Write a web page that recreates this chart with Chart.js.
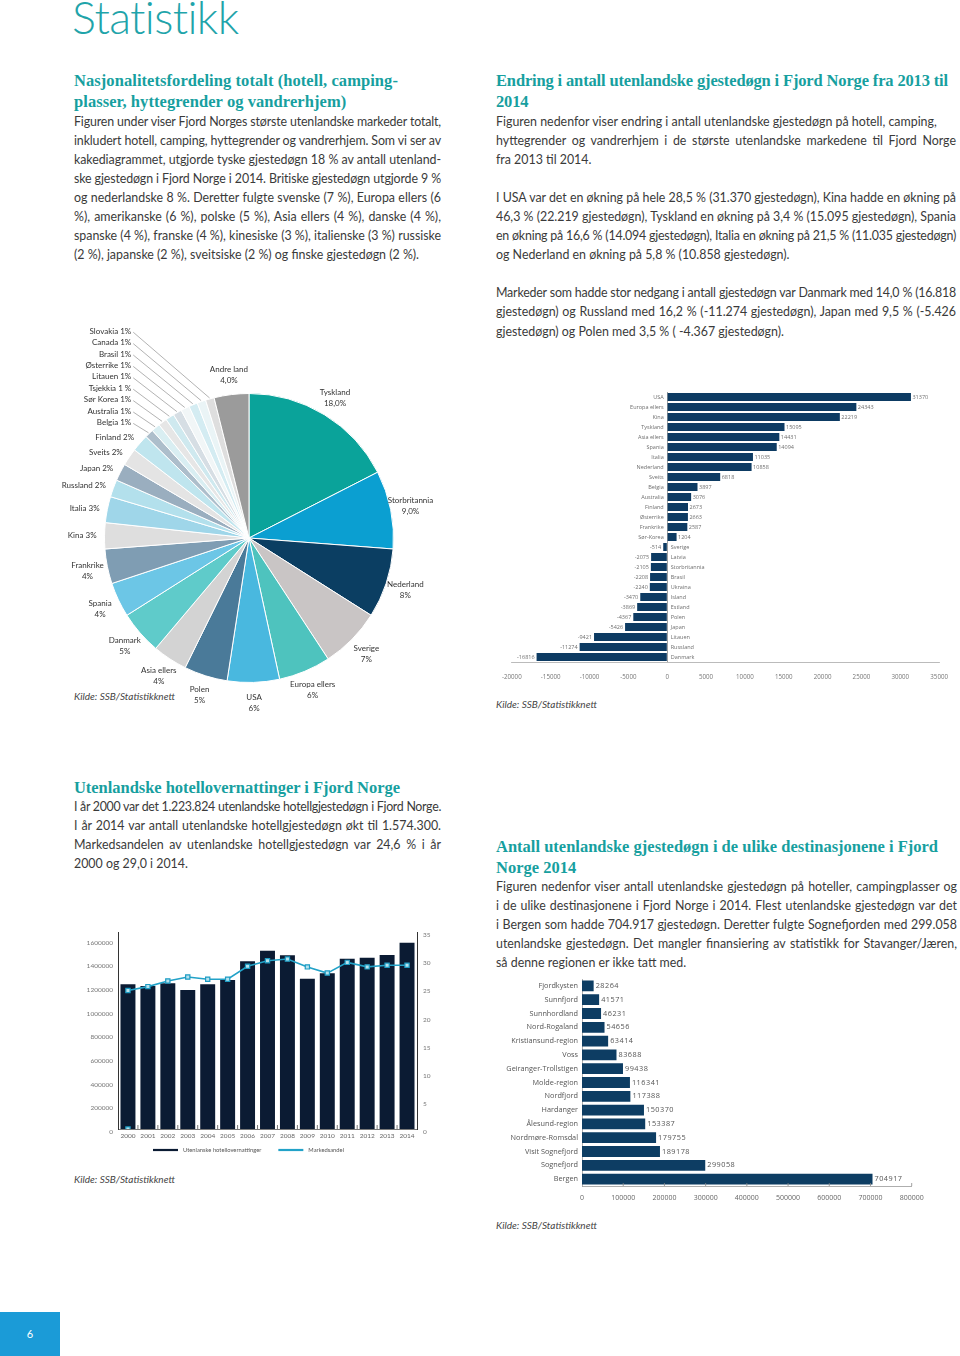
<!DOCTYPE html>
<html lang="no"><head><meta charset="utf-8"><title>Statistikk</title>
<script src="https://cdn.jsdelivr.net/npm/chart.js@4.4.1/dist/chart.umd.min.js"></script>
<style>
html,body{margin:0;padding:0;background:#fff;}
body{width:960px;height:1356px;position:relative;overflow:hidden;font-family:Lato,"Open Sans",sans-serif;color:#3a3a3a;}
.title{position:absolute;left:72px;top:-5px;font-size:45px;line-height:45px;font-weight:300;color:#1fa4aa;white-space:nowrap;}
h2{position:absolute;margin:0;font-family:"Liberation Serif",serif;font-weight:bold;color:#179f9f;font-size:16.5px;line-height:21px;white-space:nowrap;}
h2 div{white-space:nowrap;}
.body{position:absolute;font-size:12.4px;line-height:19.1px;}
.body div{white-space:nowrap;text-align:justify;text-align-last:justify;}
.body div.l{text-align-last:left;}
.body div.gap{height:19.1px;}
.kilde{position:absolute;font-style:italic;font-size:10px;color:#444;white-space:nowrap;}
canvas{position:absolute;}
.tab{position:absolute;left:0;top:1312px;width:60px;height:44px;background:#1b9bd7;color:#fff;font-size:11px;text-align:center;line-height:44px;}
</style></head><body>
<div class="title" data-w="168">Statistikk</div>

<h2 style="left:74px;top:69.5px"><div data-w="324">Nasjonalitetsfordeling totalt (hotell, camping-</div><div>plasser, hyttegrender og vandrerhjem)</div></h2>
<div class="body" style="left:74px;top:111.5px;width:367px">
<div>Figuren under viser Fjord Norges største utenlandske markeder totalt,</div>
<div>inkludert hotell, camping, hyttegrender og vandrerhjem. Som vi ser av</div>
<div>kakediagrammet, utgjorde tyske gjestedøgn 18 % av antall utenland-</div>
<div>ske gjestedøgn i Fjord Norge i 2014. Britiske gjestedøgn utgjorde 9 %</div>
<div>og nederlandske 8 %. Deretter fulgte svenske (7 %), Europa ellers (6</div>
<div>%), amerikanske (6 %), polske (5 %), Asia ellers (4 %), danske (4 %),</div>
<div>spanske (4 %), franske (4 %), kinesiske (3 %), italienske (3 %) russiske</div>
<div class="l">(2 %), japanske (2 %), sveitsiske (2 %) og finske gjestedøgn (2 %).</div>
</div>

<h2 style="left:496px;top:69.5px"><div data-w="452">Endring i antall utenlandske gjestedøgn i Fjord Norge fra 2013 til</div><div>2014</div></h2>
<div class="body" style="left:496px;top:111.5px;width:460px">
<div class="l">Figuren nedenfor viser endring i antall utenlandske gjestedøgn på hotell, camping,</div>
<div>hyttegrender og vandrerhjem i de største utenlandske markedene til Fjord Norge</div>
<div class="l">fra 2013 til 2014.</div>
<div class="gap"></div>
<div>I USA var det en økning på hele 28,5 % (31.370 gjestedøgn), Kina hadde en økning på</div>
<div>46,3 % (22.219 gjestedøgn), Tyskland en økning på 3,4 % (15.095 gjestedøgn), Spania</div>
<div>en økning på 16,6 % (14.094 gjestedøgn), Italia en økning på 21,5 % (11.035 gjestedøgn)</div>
<div class="l">og Nederland en økning på 5,8 % (10.858 gjestedøgn).</div>
<div class="gap"></div>
<div>Markeder som hadde stor nedgang i antall gjestedøgn var Danmark med 14,0 % (16.818</div>
<div>gjestedøgn) og Russland med 16,2 % (-11.274 gjestedøgn), Japan med 9,5 % (-5.426</div>
<div class="l">gjestedøgn) og Polen med 3,5 % ( -4.367 gjestedøgn).</div>
</div>

<h2 style="left:74px;top:776.5px"><div data-w="326">Utenlandske hotellovernattinger i Fjord Norge</div></h2>
<div class="body" style="left:74px;top:796.5px;width:367px">
<div>I år 2000 var det 1.223.824 utenlandske hotellgjestedøgn i Fjord Norge.</div>
<div>I år 2014 var antall utenlandske hotellgjestedøgn økt til 1.574.300.</div>
<div>Markedsandelen av utenlandske hotellgjestedøgn var 24,6 % i år</div>
<div class="l">2000 og 29,0 i 2014.</div>
</div>

<h2 style="left:496px;top:835.5px"><div data-w="442">Antall utenlandske gjestedøgn i de ulike destinasjonene i Fjord</div><div>Norge 2014</div></h2>
<div class="body" style="left:496px;top:876.5px;width:461px">
<div>Figuren nedenfor viser antall utenlandske gjestedøgn på hoteller, campingplasser og</div>
<div>i de ulike destinasjonene i Fjord Norge i 2014. Flest utenlandske gjestedøgn var det</div>
<div>i Bergen som hadde 704.917 gjestedøgn. Deretter fulgte Sognefjorden med 299.058</div>
<div>utenlandske gjestedøgn. Det mangler finansiering av statistikk for Stavanger/Jæren,</div>
<div class="l">så denne regionen er ikke tatt med.</div>
</div>

<div class="kilde" style="left:74px;top:690px">Kilde: SSB/Statistikknett</div>
<div class="kilde" style="left:496px;top:698px">Kilde: SSB/Statistikknett</div>
<div class="kilde" style="left:74px;top:1173px">Kilde: SSB/Statistikknett</div>
<div class="kilde" style="left:496px;top:1219px">Kilde: SSB/Statistikknett</div>

<canvas id="pie" width="400" height="400" style="left:55px;top:318px"></canvas>
<canvas id="chg" width="470" height="320" style="left:490px;top:380px"></canvas>
<canvas id="hot" width="400" height="250" style="left:60px;top:920px"></canvas>
<canvas id="reg" width="470" height="245" style="left:490px;top:970px"></canvas>

<div class="tab">6</div>

<script>
// ---------- DATA ----------
const pieCategories = ['Tyskland','Storbritannia','Nederland','Sverige','Europa ellers','USA','Polen','Asia ellers','Danmark','Spania','Frankrike','Kina','Italia','Russland','Japan','Sveits','Finland','Belgia','Australia','Sør Korea','Tsjekkia','Litauen','Østerrike','Brasil','Canada','Slovakia','Andre land'];
const pieValues = [18,9,8,7,6,6,5,4,5,4,4,3,3,2,2,2,2,1,1,1,1,1,1,1,1,1,4];
const piePercentLabels = ['18,0%','9,0%','8%','7%','6%','6%','5%','4%','5%','4%','4%','3%','3%','2%','2%','2%','2%','1%','1%','1%','1 %','1%','1%','1%','1%','1%','4,0%'];

const changeCategories = ['USA','Europa ellers','Kina','Tyskland','Asia ellers','Spania','Italia','Nederland','Sveits','Belgia','Australia','Finland','Østerrike','Frankrike','Sør-Korea','Sverige','Latvia','Storbritannia','Brasil','Ukraina','Island','Estland','Polen','Japan','Litauen','Russland','Danmark'];
const changeValues = [31370,24343,22219,15095,14431,14094,11035,10858,6818,3897,3076,2673,2663,2587,1204,-514,-2075,-2105,-2208,-2240,-3470,-3869,-4367,-5426,-9421,-11274,-16816];

const hotelYears = ['2000','2001','2002','2003','2004','2005','2006','2007','2008','2009','2010','2011','2012','2013','2014'];
const hotelNights = [1223824,1209000,1231700,1175200,1223300,1259600,1417300,1507000,1468000,1270600,1316000,1439300,1447800,1470500,1574300];
const marketShare = [24.6,25.3,26.3,27.0,26.6,26.6,28.9,29.9,30.2,28.8,27.7,29.6,28.8,29.1,29.1];
const marketShareBaseMarker = [0,null,null,null,null,null,null,null,null,null,null,null,null,null,null];
const hotelNightTicks = [0,200000,400000,600000,800000,1000000,1200000,1400000,1600000];

const regionCategories = ['Fjordkysten','Sunnfjord','Sunnhordland','Nord-Rogaland','Kristiansund-region','Voss','Geiranger-Trollstigen','Molde-region','Nordfjord','Hardanger','Ålesund-region','Nordmøre-Romsdal','Visit Sognefjord','Sognefjord','Bergen'];
const regionValues = [28264,41571,46231,54656,63414,83688,99438,116341,117388,150370,153387,179755,189178,299058,704917];

// ---------- STYLES ----------
const pieColors = ['#0aa39a','#0b9fd1','#0b3e62','#c9c5c5','#4ec3be','#49b8df','#4a7a99','#d3d3d3','#5fcbca','#6cc6e6','#7f9db3','#dedede','#9fd6e9','#b3e0ec','#9aaebf','#e4e4e4','#bfe5ee','#adbecb','#d9eef2','#e6e6e6','#cfe9ef','#d6dee4','#f1f6f7','#d4ecf2','#eaf4f6','#dedede','#9b9b9b'];

// ---------- TEXT FITTING ----------
function natWidth(el){const r=document.createRange();r.selectNodeContents(el);return r.getBoundingClientRect().width;}
document.querySelectorAll('[data-w]').forEach(el=>{
  const target=+el.dataset.w; const w=natWidth(el); const n=el.textContent.length;
  const ls=((target-w)/n).toFixed(3)+'px';
  if(el.parentElement.tagName==='H2') el.parentElement.style.letterSpacing=ls; else el.style.letterSpacing=ls;
});
document.querySelectorAll('.body div').forEach(el=>{
  if(el.classList.contains('gap')) return;
  const prev=el.style.textAlignLast; el.style.textAlignLast='left';
  const w=natWidth(el), cw=el.clientWidth;
  if(w>cw-1){el.style.letterSpacing=((cw-1-w)/el.textContent.length).toFixed(3)+'px';}
  el.style.textAlignLast=prev;
});

// ---------- PLUGINS ----------
const pieLabelPlugin={id:'pieLabels',afterDatasetsDraw(chart){
  const ctx=chart.ctx, meta=chart.getDatasetMeta(0);
  ctx.save(); ctx.font='8px Lato'; ctx.fillStyle='#333'; ctx.strokeStyle='#666'; ctx.lineWidth=0.5; ctx.textBaseline='middle';
  let k=0;
  meta.data.forEach((arc,i)=>{
    const p=arc.getProps(['x','y','startAngle','endAngle','outerRadius'],true);
    const mid=(p.startAngle+p.endAngle)/2, c=Math.cos(mid), s=Math.sin(mid), r=p.outerRadius;
    const v=pieValues[i], name=pieCategories[i], pct=piePercentLabels[i];
    if(v>=4){
      const lx=p.x+c*r*1.14, ly=p.y+s*r*1.14;
      ctx.textAlign='center'; ctx.fillText(name,lx,ly-5.5); ctx.fillText(pct,lx,ly+5.5);
    } else if(v>=2){
      ctx.textAlign='right'; ctx.fillText(name+' '+pct,p.x+c*r*1.055,p.y+s*r*1.055);
    } else {
      const lx=p.x-r*0.815, ly=p.y-r*0.80-k*11.4;
      ctx.textAlign='right'; ctx.fillText(name+' '+pct,lx,ly);
      ctx.beginPath(); ctx.moveTo(lx+2,ly+1); ctx.lineTo(p.x+c*(r+1),p.y+s*(r+1)); ctx.stroke();
      k++;
    }
  });
  ctx.restore();
}};

const changeLabelPlugin={id:'changeLabels',afterDatasetsDraw(chart){
  const ctx=chart.ctx, meta=chart.getDatasetMeta(0), zero=chart.scales.x.getPixelForValue(0);
  ctx.save(); ctx.font='5.5px "Open Sans"'; ctx.fillStyle='#6f6f6f'; ctx.textBaseline='middle';
  meta.data.forEach((bar,i)=>{
    const v=changeValues[i], y=bar.y;
    if(v>=0){ctx.textAlign='left';ctx.fillText(String(v),bar.x+1.5,y);ctx.textAlign='right';ctx.fillText(changeCategories[i],zero-3.5,y);}
    else{ctx.textAlign='right';ctx.fillText(String(v),bar.x-2,y);ctx.textAlign='left';ctx.fillText(changeCategories[i],zero+3.5,y);}
  });
  ctx.restore();
}};

const regionLabelPlugin={id:'regionLabels',afterDatasetsDraw(chart){
  const ctx=chart.ctx, meta=chart.getDatasetMeta(0);
  ctx.save(); ctx.font='7.3px "Open Sans"'; ctx.fillStyle='#555'; ctx.textBaseline='middle'; ctx.textAlign='left';
  try{ctx.letterSpacing='0.5px';}catch(e){}
  meta.data.forEach((bar,i)=>{ctx.fillText(String(regionValues[i]),bar.x+2,bar.y);});
  ctx.restore();
}};

const innerTicksPlugin={id:'innerTicks',afterDraw(chart,args,opts){
  if(!opts||!opts.mode) return;
  const sc=chart.scales.x, a=chart.chartArea, ctx=chart.ctx, xs=[];
  if(opts.mode==='between'){for(let i=1;i<sc.ticks.length;i++) xs.push((sc.getPixelForTick(i-1)+sc.getPixelForTick(i))/2);}
  else{sc.ticks.forEach((t,i)=>{if(t.value!==0) xs.push(sc.getPixelForTick(i));});}
  ctx.save(); ctx.strokeStyle=opts.color||'#666'; ctx.lineWidth=0.8; ctx.beginPath();
  xs.forEach(x=>{ctx.moveTo(x,a.bottom);ctx.lineTo(x,a.bottom-opts.len);});
  ctx.stroke(); ctx.restore();
}};

const hotelLegendPlugin={id:'hotelLegend',afterDraw(chart){
  const ctx=chart.ctx, a=chart.chartArea, y=a.bottom+21;
  ctx.save(); ctx.font='5.8px Lato'; ctx.textBaseline='middle'; ctx.fillStyle='#555';
  let x=a.left+35;
  const items=chart.data.datasets.filter(ds=>ds.label).sort((p,q)=>q.order-p.order);
  items.forEach(ds=>{
    ctx.strokeStyle=ds.type==='line'?ds.borderColor:ds.backgroundColor; ctx.lineWidth=2.2;
    ctx.beginPath(); ctx.moveTo(x,y); ctx.lineTo(x+25,y); ctx.stroke();
    x+=30; ctx.fillText(ds.label,x,y); x+=ctx.measureText(ds.label).width+17;
  });
  ctx.restore();
}};

const plainNumber=v=>String(v);

Chart.defaults.font.family='Lato';
Chart.defaults.animation=false;
Chart.defaults.responsive=false;
Chart.defaults.plugins.legend.display=false;
Chart.defaults.plugins.tooltip.enabled=false;

// ---------- PIE ----------
new Chart(document.getElementById('pie'),{
  type:'pie',
  data:{labels:pieCategories,datasets:[{data:pieValues,backgroundColor:pieColors,borderColor:'#fff',borderWidth:1}]},
  options:{layout:{padding:{left:49,right:61,top:75,bottom:35}}},
  plugins:[pieLabelPlugin]
});

// ---------- CHANGE BAR ----------
new Chart(document.getElementById('chg'),{
  type:'bar',
  data:{labels:changeCategories,datasets:[{data:changeValues,backgroundColor:'#0d3b63',barPercentage:0.8,categoryPercentage:1}]},
  options:{
    indexAxis:'y',
    layout:{padding:{left:21,right:20,top:12,bottom:0}},
    scales:{
      x:{min:-20000,max:35000,
        ticks:{stepSize:5000,autoSkip:false,maxRotation:0,padding:12,color:'#777',font:{family:'Open Sans',size:6.2},callback:plainNumber},
        grid:{drawTicks:false,lineWidth:0.8,color:c=>(c.tick&&c.tick.value===0)?'#8a8a8a':'rgba(0,0,0,0)'},
        border:{display:true,color:'#aaa',width:0.8},
        afterFit:s=>{s.height=38;}},
      y:{display:false}
    }
  },
  plugins:[changeLabelPlugin]
});

// ---------- HOTEL COMBO ----------
new Chart(document.getElementById('hot'),{
  data:{labels:hotelYears,datasets:[
    {type:'line',label:'Markedsandel',data:marketShare,yAxisID:'y1',borderColor:'#22a2c8',borderWidth:1.6,tension:0,
      pointStyle:'rect',pointRadius:3,pointBackgroundColor:'#b6e2ee',pointBorderColor:'#1d9cc4',pointBorderWidth:1.2,order:0},
    {type:'line',label:'',data:marketShareBaseMarker,yAxisID:'y1',showLine:false,
      pointStyle:'rect',pointRadius:3,pointBackgroundColor:'#b6e2ee',pointBorderColor:'#1d9cc4',pointBorderWidth:1.2,order:0},
    {type:'bar',label:'Utenlanske hotellovernattinger',data:hotelNights,yAxisID:'y',backgroundColor:'#0b1b33',barPercentage:0.75,categoryPercentage:1,order:1}
  ]},
  options:{
    layout:{padding:{left:0,right:0,top:12,bottom:0}},
    scales:{
      x:{ticks:{autoSkip:false,maxRotation:0,padding:3,color:'#666',font:{size:6.5}},
        grid:{display:false,drawTicks:false},border:{display:true,color:'#555',width:0.8},
        afterFit:s=>{s.height=41;}},
      y:{position:'left',min:0,max:1665000,
        afterBuildTicks:s=>{s.ticks=hotelNightTicks.map(v=>({value:v}));},
        ticks:{padding:5,labelOffset:3,color:'#777',font:{size:6.5},callback:plainNumber},
        grid:{display:false,drawTicks:false},border:{display:true,color:'#333',width:1},
        afterFit:s=>{s.width=58;}},
      y1:{position:'right',min:0,max:35,
        ticks:{stepSize:5,padding:6,labelOffset:3,color:'#777',font:{size:6.5},callback:plainNumber},
        grid:{display:false,drawTicks:false},border:{display:true,color:'#333',width:1},
        afterFit:s=>{s.width=43;}}
    },
    plugins:{innerTicks:{mode:'between',len:4,color:'#555'}}
  },
  plugins:[innerTicksPlugin,hotelLegendPlugin]
});

// ---------- REGION BAR ----------
new Chart(document.getElementById('reg'),{
  type:'bar',
  data:{labels:regionCategories,datasets:[{data:regionValues,backgroundColor:'#0d3d63',barPercentage:0.78,categoryPercentage:1}]},
  options:{
    indexAxis:'y',
    layout:{padding:{left:0,right:48.3,top:9,bottom:0}},
    scales:{
      x:{min:0,max:800000,
        ticks:{stepSize:100000,autoSkip:false,maxRotation:0,padding:7.8,color:'#666',font:{family:'Open Sans',size:7},callback:plainNumber},
        grid:{display:false,drawTicks:false},border:{display:true,color:'#999',width:0.8},
        afterFit:s=>{s.height=29;}},
      y:{ticks:{padding:4,color:'#555',font:{family:'Open Sans',size:7.3}},
        grid:{display:false,drawTicks:false},border:{display:true,color:'#999',width:0.8},
        afterFit:s=>{s.width=92;}}
    },
    plugins:{innerTicks:{mode:'ticks',len:3,color:'#888'}}
  },
  plugins:[innerTicksPlugin,regionLabelPlugin]
});
</script>
</body></html>
